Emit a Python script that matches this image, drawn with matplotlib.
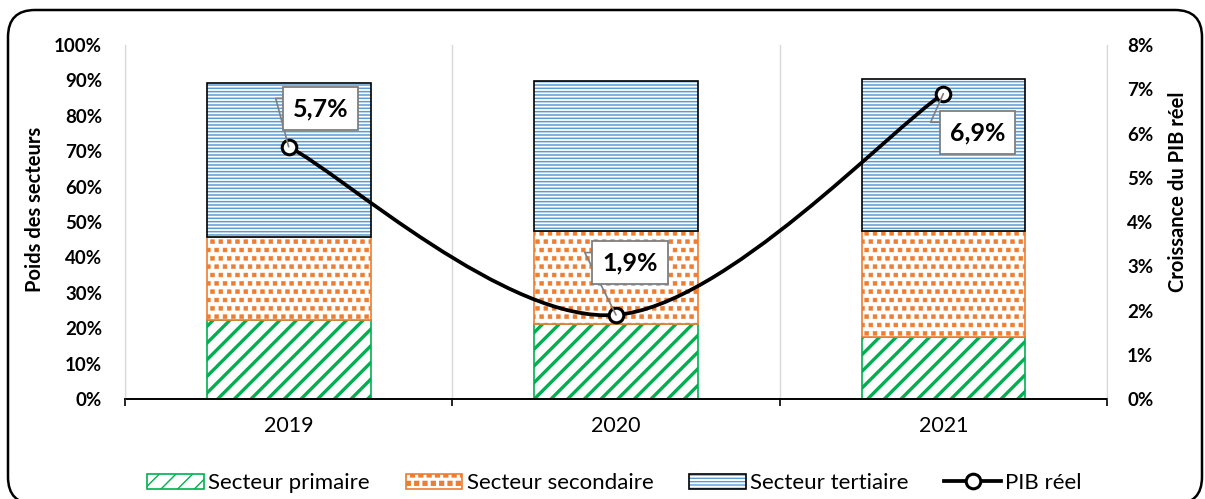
import numpy as np
import matplotlib
matplotlib.use('Agg')
import matplotlib.pyplot as plt
import matplotlib.hatch as mhatch
from matplotlib.path import Path
from matplotlib.patches import Patch, FancyBboxPatch, PathPatch
from matplotlib.lines import Line2D
from matplotlib.legend_handler import HandlerTuple

# ---------------- data ----------------
years = ['2019', '2020', '2021']
primaire = [22.2, 21.1, 17.4]
secondaire = [23.6, 26.4, 30.1]
tertiaire = [43.5, 42.4, 42.9]
pib = [5.7, 1.9, 6.9]
pib_labels = ['5,7%', '1,9%', '6,9%']
left_ticks = list(range(0, 101, 10))
right_ticks = list(range(0, 9))
series_names = ['Secteur primaire', 'Secteur secondaire', 'Secteur tertiaire', 'PIB réel']

GREEN = '#00B050'
ORANGE = '#ED7D31'
BLUE = '#5B9BD5'
GRID = '#D9D9D9'

plt.rcParams['font.family'] = ['Lato', 'DejaVu Sans']


# square dots hatch (replaces the '.' pattern)
class SquareDots(mhatch.Shapes):
    filled = True
    size = 0.23

    def __init__(self, hatch, density):
        self.num_rows = hatch.count('.') * density
        self.shape_vertices = np.array([[-1, -1], [1, -1], [1, 1], [-1, 1], [-1, -1]], float)
        self.shape_codes = np.array([Path.MOVETO, Path.LINETO, Path.LINETO,
                                     Path.LINETO, Path.CLOSEPOLY], dtype=Path.code_type)
        super().__init__(hatch, density)


mhatch._hatch_types = [SquareDots if c is mhatch.SmallFilledCircles else c
                       for c in mhatch._hatch_types]


def set_hlw(artists, hlw):
    for a in artists:
        if hasattr(a, 'set_hatch_linewidth'):
            a.set_hatch_linewidth(hlw)


fig = plt.figure(figsize=(12.05, 4.99), dpi=100)
ax = fig.add_axes([125 / 1205, 100 / 499, 982 / 1205, 354 / 499])
ax2 = ax.twinx()

x = np.arange(len(years))
w = 0.5
b_sec = np.array(primaire)
b_ter = b_sec + np.array(secondaire)

G_HATCH, G_HLW = '//', 2.4
O_HATCH, O_HLW = '..', 0.4
B_HATCH, B_HLW = '-----', 1.1

with plt.rc_context({'hatch.linewidth': G_HLW}):
    bp = ax.bar(x, primaire, w, facecolor='white', edgecolor=GREEN, hatch=G_HATCH, lw=1.2, zorder=2)
set_hlw(bp, G_HLW)
with plt.rc_context({'hatch.linewidth': O_HLW}):
    bs = ax.bar(x, secondaire, w, bottom=b_sec, facecolor='white', edgecolor=ORANGE,
                hatch=O_HATCH, lw=1.2, zorder=2)
set_hlw(bs, O_HLW)
with plt.rc_context({'hatch.linewidth': B_HLW}):
    bt = ax.bar(x, tertiaire, w, bottom=b_ter, facecolor='white', edgecolor=BLUE,
                hatch=B_HATCH, lw=0, zorder=2)
set_hlw(bt, B_HLW)
ax.bar(x, tertiaire, w, bottom=b_ter, fill=False, edgecolor='black', lw=1.2, zorder=2.1)

# axes styling
ax.set_xlim(-0.5, 2.5)
ax.set_ylim(0, 100)
ax.set_yticks(left_ticks)
ax.set_yticklabels([f'{v}%' for v in left_ticks], fontweight='bold', fontsize=13.5)
ax.set_xticks(x)
ax.set_xticklabels(years, fontsize=15.5)
ax.set_xticks([-0.5, 0.5, 1.5, 2.5], minor=True)
ax.tick_params(axis='x', which='major', length=0, pad=12)
ax.tick_params(axis='x', which='minor', length=5, width=1.2, color='black')
ax.tick_params(axis='y', length=0, pad=16.5)
ax.grid(axis='x', which='minor', color=GRID, lw=1, zorder=0)
ax.set_axisbelow(True)
for a in (ax, ax2):
    a.spines['top'].set_visible(False)
    a.spines['left'].set_color(GRID)
    a.spines['right'].set_color(GRID)
    a.spines['bottom'].set_color('black')
    a.spines['bottom'].set_linewidth(1.2)

ax2.set_ylim(0, 8)
ax2.set_yticks(right_ticks)
ax2.set_yticklabels([f'{v}%' for v in right_ticks], fontweight='bold', fontsize=13.5)
ax2.tick_params(axis='y', length=0, pad=14.5)

# smoothed line (Excel style bezier)
xs = x.astype(float)
ys = np.array(pib, float)
n = len(xs)
verts = [(xs[0], ys[0])]
codes = [Path.MOVETO]
for i in range(n - 1):
    p0 = np.array([xs[max(i - 1, 0)], ys[max(i - 1, 0)]])
    p1 = np.array([xs[i], ys[i]])
    p2 = np.array([xs[i + 1], ys[i + 1]])
    p3 = np.array([xs[min(i + 2, n - 1)], ys[min(i + 2, n - 1)]])
    c1 = p1 + (p2 - p0) / 6
    c2 = p2 - (p3 - p1) / 6
    verts += [tuple(c1), tuple(c2), tuple(p2)]
    codes += [Path.CURVE4] * 3
ax2.add_patch(PathPatch(Path(verts, codes), fill=False, lw=2.7, edgecolor='black',
                        zorder=3, capstyle='round'))
ax2.plot(xs, ys, ls='none', marker='o', ms=10.5, mfc='white', mec='black', mew=2.2, zorder=4)

# data labels with leader lines
offsets = [(32, 38), (14, 52), (34, -39)]
leader_angles = [105, 116.6, 66]
for xi, yi, lab, (dx, dy), ang in zip(xs, ys, pib_labels, offsets, leader_angles):
    ax2.annotate(lab, xy=(xi, yi), xytext=(dx, dy), textcoords='offset pixels',
                 ha='center', va='center', fontsize=18, fontweight='bold', zorder=5,
                 bbox=dict(boxstyle='square,pad=0.4', fc='white', ec='#7F7F7F', lw=1.3),
                 arrowprops=dict(arrowstyle='-', color='#7F7F7F', lw=1.2,
                                 relpos=(0, 0.95), shrinkA=0, shrinkB=0,
                                 connectionstyle=f'angle,angleA=0,angleB={ang},rad=0'))

# axis titles
fig.text(35 / 1205, 1 - 209 / 499, 'Poids des secteurs', rotation=90, ha='center',
         va='center', fontsize=14.5, fontweight='bold')
fig.text(1178 / 1205, 1 - 192 / 499, 'Croissance du PIB réel', rotation=90, ha='center',
         va='center', fontsize=14.5, fontweight='bold')

# legend
with plt.rc_context({'hatch.linewidth': G_HLW}):
    h1 = Patch(facecolor='white', edgecolor=GREEN, hatch=G_HATCH, lw=1.2)
set_hlw([h1], G_HLW)
with plt.rc_context({'hatch.linewidth': O_HLW}):
    h2 = Patch(facecolor='white', edgecolor=ORANGE, hatch=O_HATCH, lw=1.2)
set_hlw([h2], O_HLW)
with plt.rc_context({'hatch.linewidth': B_HLW}):
    h3a = Patch(facecolor='white', edgecolor=BLUE, hatch=B_HATCH, lw=0)
set_hlw([h3a], B_HLW)
h3b = Patch(fill=False, edgecolor='black', lw=1.2)
h4 = Line2D([], [], color='black', lw=2.7, marker='o', ms=10.5, mfc='white', mec='black', mew=2.2)
fig.legend([h1, h2, (h3a, h3b), h4], series_names, loc='center',
           bbox_to_anchor=(0.51, 1 - 483 / 499), ncol=4, frameon=False, fontsize=16,
           handlelength=2.55, handleheight=0.65, handletextpad=0.2, columnspacing=1.6,
           handler_map={tuple: HandlerTuple(ndivide=1)})

# rounded outer frame
frame = FancyBboxPatch((0.08, -0.05), 11.94, 4.99 - 0.10 + 0.05,
                       boxstyle='round,pad=0,rounding_size=0.27',
                       transform=fig.dpi_scale_trans, fill=False, edgecolor='black',
                       lw=1.8, clip_on=False)
fig.patches.append(frame)

fig.savefig('out.png', dpi=100)
